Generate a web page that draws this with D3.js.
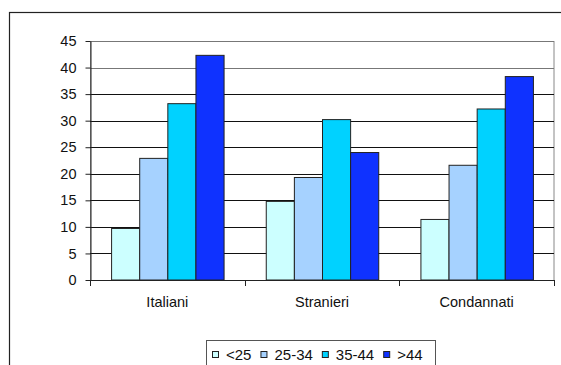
<!DOCTYPE html>
<html>
<head>
<meta charset="utf-8">
<script src="https://cdn.jsdelivr.net/npm/d3@7"></script>
<style>
  html, body { margin: 0; padding: 0; background: #fff; }
  svg { display: block; font-family: "Liberation Sans", Arial, sans-serif; }
</style>
</head>
<body>
<svg id="chart" width="561" height="365"></svg>
<script>
// Categories, age groups and percentages per group
const categories = ["Italiani", "Stranieri", "Condannati"];
const ageGroups = ["<25", "25-34", "35-44", ">44"];
const under25 = [9.7, 14.8, 11.4];
const age25to34 = [22.9, 19.3, 21.6];
const age35to44 = [33.2, 30.2, 32.2];
const over44 = [42.3, 24.0, 38.3];
const yTicks = [0, 5, 10, 15, 20, 25, 30, 35, 40, 45];
const colors = ["#CCFFFF", "#A6D2FF", "#00D2FF", "#0F32FF"];

const seriesValues = [under25, age25to34, age35to44, over44];

const svg = d3.select("#chart");

// Outer chart frame (runs off the right and bottom edges)
svg.append("rect")
  .attr("x", 9.5).attr("y", 12.5)
  .attr("width", 600).attr("height", 400)
  .attr("fill", "none").attr("stroke", "#222").attr("stroke-width", 1.2);

const plot = { left: 90, right: 554, top: 41, bottom: 280 };

const x0 = d3.scaleBand().domain(categories).range([plot.left, plot.right]);
// Gap width: bars cover 4 / (4 + 1.5) of each category band
const groupW = x0.bandwidth() * 4 / 5.5;
const x1 = d3.scaleBand().domain(ageGroups)
  .range([(x0.bandwidth() - groupW) / 2, (x0.bandwidth() + groupW) / 2]);
const y = d3.scaleLinear().domain([0, 45]).range([plot.bottom, plot.top]);

// Plot area border
svg.append("rect")
  .attr("x", plot.left + 0.5).attr("y", plot.top + 0.5)
  .attr("width", plot.right - plot.left - 0.5).attr("height", plot.bottom - plot.top)
  .attr("fill", "none").attr("stroke", "#888").attr("stroke-width", 1);

// Horizontal gridlines
svg.append("g")
  .selectAll("line")
  .data(yTicks.filter(t => t > 0))
  .join("line")
  .attr("x1", plot.left).attr("x2", plot.right)
  .attr("y1", d => Math.round(y(d)) + 0.5).attr("y2", d => Math.round(y(d)) + 0.5)
  .attr("stroke", d => d >= 40 ? "#777" : "#111").attr("stroke-width", 1);

// Bars
const groups = svg.append("g")
  .selectAll("g")
  .data(categories)
  .join("g")
  .attr("transform", d => `translate(${x0(d)},0)`);

groups.selectAll("rect")
  .data((c, ci) => ageGroups.map((g, gi) => ({ g, gi, v: seriesValues[gi][ci] })))
  .join("rect")
  .attr("x", d => x1(d.g) + 0.5)
  .attr("y", d => y(d.v))
  .attr("width", x1.bandwidth())
  .attr("height", d => y(0) - y(d.v))
  .attr("fill", d => colors[d.gi])
  .attr("stroke", "#222").attr("stroke-width", 1);

// Y axis
const yAxis = d3.axisLeft(y).tickValues(yTicks).tickSize(5).tickPadding(9).tickSizeOuter(0);
const gy = svg.append("g")
  .attr("transform", `translate(${plot.left + 0.5},0)`)
  .call(yAxis);
gy.select(".domain").attr("stroke", "#222");
gy.selectAll(".tick line").attr("stroke", "#222");
gy.selectAll(".tick text")
  .attr("font-size", 14.5).attr("fill", "#111")
  .attr("font-family", "Liberation Sans, Arial, sans-serif");

// X axis line with ticks between categories
const boundaries = categories.map(c => x0(c)).concat([plot.right]);
svg.append("line")
  .attr("x1", plot.left).attr("x2", plot.right)
  .attr("y1", plot.bottom + 0.5).attr("y2", plot.bottom + 0.5)
  .attr("stroke", "#222");
svg.append("g")
  .selectAll("line")
  .data(boundaries)
  .join("line")
  .attr("x1", d => Math.round(d) + 0.5).attr("x2", d => Math.round(d) + 0.5)
  .attr("y1", plot.bottom).attr("y2", plot.bottom + 6)
  .attr("stroke", "#222");

svg.append("g")
  .selectAll("text")
  .data(categories)
  .join("text")
  .attr("x", d => x0(d) + x0.bandwidth() / 2)
  .attr("y", 307)
  .attr("text-anchor", "middle")
  .attr("font-size", 14.5).attr("fill", "#111")
  .text(d => d);

// Legend
const legend = svg.append("g");
legend.append("rect")
  .attr("x", 206.5).attr("y", 340.5)
  .attr("width", 229).attr("height", 40)
  .attr("fill", "#fff").attr("stroke", "#555").attr("stroke-width", 1);

let lx = 212;
ageGroups.forEach((g, i) => {
  legend.append("rect")
    .attr("x", lx + 0.5).attr("y", 351.5)
    .attr("width", 6).attr("height", 6)
    .attr("fill", colors[i]).attr("stroke", "#222").attr("stroke-width", 1);
  const t = legend.append("text")
    .attr("x", lx + 14).attr("y", 360)
    .attr("font-size", 15).attr("fill", "#111")
    .text(g);
  lx = lx + 14 + t.node().getComputedTextLength() + 9;
});
</script>
</body>
</html>
